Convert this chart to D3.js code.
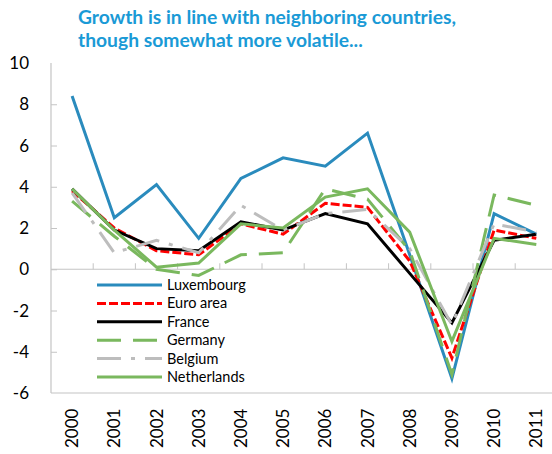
<!DOCTYPE html>
<html>
<head>
<meta charset="utf-8">
<script src="https://cdn.jsdelivr.net/npm/d3@7"></script>
<style>
  html, body { margin: 0; padding: 0; background: #fff; }
  svg { display: block; }
</style>
</head>
<body>
<svg id="chart" width="552" height="454"></svg>
<script>
const years = ["2000","2001","2002","2003","2004","2005","2006","2007","2008","2009","2010","2011"];
const yTicks = [10, 8, 6, 4, 2, 0, -2, -4, -6];
const titleLines = ["Growth is in line with neighboring countries,", "though somewhat more volatile..."];

const luxembourg  = [8.4, 2.5, 4.1, 1.5, 4.4, 5.4, 5.0, 6.6, 0.7, -5.3, 2.7, 1.7];
const euroArea    = [3.8, 2.0, 0.9, 0.7, 2.2, 1.7, 3.2, 3.0, 0.4, -4.3, 1.9, 1.5];
const france      = [3.9, 1.9, 1.0, 0.9, 2.3, 1.9, 2.7, 2.2, -0.2, -2.6, 1.4, 1.7];
const germany     = [3.3, 1.6, 0.0, -0.3, 0.7, 0.8, 3.9, 3.4, 0.9, -5.1, 3.6, 3.1];
const belgium     = [3.7, 0.8, 1.4, 0.8, 3.1, 1.9, 2.7, 2.9, 1.0, -2.7, 2.2, 1.8];
const netherlands = [3.9, 1.9, 0.1, 0.3, 2.2, 2.0, 3.5, 3.9, 1.8, -3.5, 1.5, 1.2];

const seriesNames = ["Luxembourg", "Euro area", "France", "Germany", "Belgium", "Netherlands"];
const seriesValues = [luxembourg, euroArea, france, germany, belgium, netherlands];
const seriesColors = ["#2a8bbd", "#ff0000", "#000000", "#7ab85e", "#bdbdbd", "#7ab85e"];
const seriesDash = [null, "9,3", null, "24,12", "24,10,4,10", null];

const svg = d3.select("#chart");
const plot = { left: 51, top: 63, bottom: 393, bandW: 42.2 };

const x = d3.scaleBand().domain(years)
  .range([plot.left, plot.left + plot.bandW * years.length]).padding(0);
const y = d3.scaleLinear().domain([-6, 10]).range([plot.bottom, plot.top]);
const axisColor = "#c4c4c4";

// Title
svg.append("g").selectAll("text").data(titleLines).join("text")
  .attr("x", 78).attr("y", (d, i) => 24 + i * 23)
  .attr("font-family", "Lato, 'Open Sans', sans-serif")
  .attr("font-weight", "bold").attr("font-size", 19.3)
  .attr("fill", "#1a9ad6").text(d => d);

// Y axis (ticks inward)
const yAxis = d3.axisRight(y).tickValues(yTicks.filter(v => v > -6 && v < 10))
  .tickSize(6).tickFormat("");
const ya = svg.append("g").attr("transform", `translate(${plot.left},0)`).call(yAxis);
ya.select(".domain").remove();
ya.selectAll("line").attr("stroke", axisColor);
svg.append("line").attr("x1", plot.left).attr("x2", plot.left)
  .attr("y1", plot.top).attr("y2", plot.bottom).attr("stroke", axisColor).attr("stroke-width", 1.2);
svg.append("line").attr("x1", plot.left).attr("x2", 552)
  .attr("y1", plot.bottom).attr("y2", plot.bottom).attr("stroke", axisColor).attr("stroke-width", 1.2);

svg.append("g").selectAll("text").data(yTicks).join("text")
  .attr("x", 29).attr("y", d => y(d)).attr("dy", "0.36em")
  .attr("text-anchor", "end")
  .attr("font-family", "Lato, 'Open Sans', sans-serif").attr("font-size", 17)
  .attr("fill", "#000").text(d => d);

// Zero line with ticks upward at category boundaries
svg.append("line").attr("x1", plot.left).attr("x2", 552)
  .attr("y1", y(0)).attr("y2", y(0)).attr("stroke", axisColor).attr("stroke-width", 1.2);
svg.append("g").selectAll("line").data(years.slice(1)).join("line")
  .attr("x1", d => x(d)).attr("x2", d => x(d))
  .attr("y1", y(0)).attr("y2", y(0) - 6).attr("stroke", axisColor);

// X labels (rotated)
svg.append("g").selectAll("text").data(years).join("text")
  .attr("transform", d => `translate(${x(d) + x.bandwidth() / 2 + 6},448) rotate(-90)`)
  .attr("font-family", "Lato, 'Open Sans', sans-serif").attr("font-size", 17)
  .attr("fill", "#000").text(d => d);

// Lines
const line = d3.line().x((d, i) => x(years[i]) + x.bandwidth() / 2).y(d => y(d));
const lg = svg.append("g");
seriesValues.forEach((vals, k) => {
  lg.append("path").datum(vals)
    .attr("d", line).attr("fill", "none")
    .attr("stroke", seriesColors[k]).attr("stroke-width", 3)
    .attr("stroke-dasharray", seriesDash[k])
    .attr("stroke-linejoin", "miter");
});

// Legend
const leg = svg.append("g");
seriesNames.forEach((name, k) => {
  const yy = 285 + k * 18.4;
  leg.append("line").attr("x1", 97).attr("x2", 162).attr("y1", yy).attr("y2", yy)
    .attr("stroke", seriesColors[k]).attr("stroke-width", 3)
    .attr("stroke-dasharray", seriesDash[k]);
  leg.append("text").attr("x", 167).attr("y", yy).attr("dy", "0.35em")
    .attr("font-family", "Lato, 'Open Sans', sans-serif").attr("font-size", 14.5)
    .attr("fill", "#000").text(name);
});
</script>
</body>
</html>
